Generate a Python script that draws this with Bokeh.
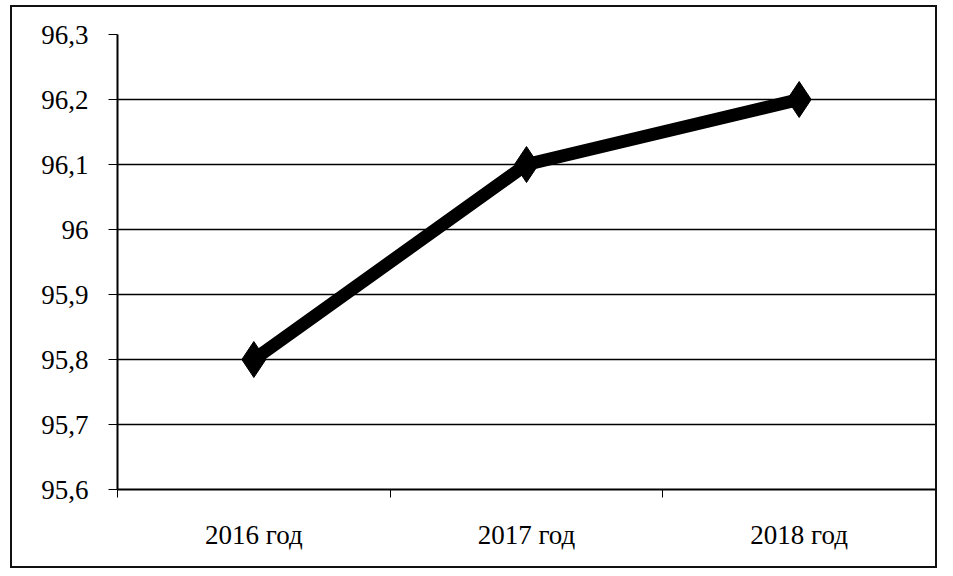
from bokeh.plotting import figure
from bokeh.models import FixedTicker, Range1d
from bokeh.embed import file_html
from bokeh.resources import INLINE

categories = ["2016 год", "2017 год", "2018 год"]
values = [95.8, 96.1, 96.2]
y_ticks = [95.6, 95.7, 95.8, 95.9, 96.0, 96.1, 96.2, 96.3]
y_tick_labels = ["95,6", "95,7", "95,8", "95,9", "96", "96,1", "96,2", "96,3"]

xs = [i + 0.5 for i in range(len(categories))]

p = figure(width=927, height=563, output_backend="svg", toolbar_location=None,
           x_range=Range1d(0, len(categories)), y_range=Range1d(95.6, 96.3),
           min_border_left=105, min_border_top=27, min_border_right=4, min_border_bottom=81)
p.styles = {"border": "2px solid #111", "box-sizing": "border-box",
            "margin-left": "10px", "margin-top": "5px"}
p.outline_line_color = None
p.background_fill_color = "white"
p.border_fill_color = "white"

p.line(xs, values, line_color="black", line_width=13, line_join="round")
p.scatter(xs, values, marker="diamond", size=36, fill_color="black", line_color="black")

# y axis
p.yaxis.ticker = FixedTicker(ticks=y_ticks)
p.yaxis.major_label_overrides = {t: l for t, l in zip(y_ticks, y_tick_labels)}
p.yaxis.major_label_text_font = "Liberation Serif"
p.yaxis.major_label_text_font_size = "27px"
p.yaxis.major_label_text_color = "black"
p.yaxis.axis_line_color = "black"
p.yaxis.axis_line_width = 2
p.yaxis.major_tick_line_color = "black"
p.yaxis.major_tick_out = 9
p.yaxis.major_tick_in = 0
p.yaxis.minor_tick_line_color = None
p.yaxis.major_label_standoff = 20

# x axis
p.xaxis.ticker = FixedTicker(ticks=xs, minor_ticks=list(range(len(categories) + 1)))
p.xaxis.major_label_overrides = {x: c for x, c in zip(xs, categories)}
p.xaxis.major_label_text_font = "Liberation Serif"
p.xaxis.major_label_text_font_size = "27px"
p.xaxis.major_label_text_color = "black"
p.xaxis.axis_line_color = "black"
p.xaxis.axis_line_width = 2
p.xaxis.major_tick_line_color = None
p.xaxis.major_tick_out = 0
p.xaxis.minor_tick_line_color = "black"
p.xaxis.minor_tick_out = 8
p.xaxis.minor_tick_in = 0
p.xaxis.major_label_standoff = 22

p.xgrid.grid_line_color = None
p.ygrid.grid_line_color = "black"
p.ygrid.grid_line_width = 1.5
p.ygrid.grid_line_alpha = 1.0

open("out.html", "w").write(file_html(p, INLINE))
